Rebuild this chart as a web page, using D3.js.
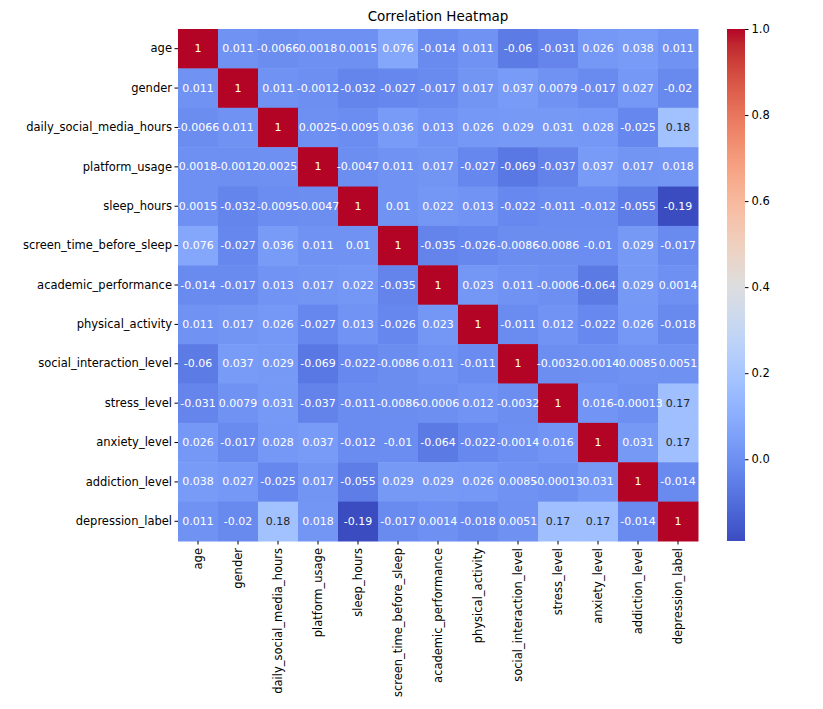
<!DOCTYPE html>
<html><head><meta charset="utf-8">
<script src="https://cdn.jsdelivr.net/npm/d3@7"></script>
<style>body{margin:0;background:#fff;font-family:"DejaVu Sans",sans-serif;}</style>
</head><body><div id="chart"></div>
<script>
const vars = ["age","gender","daily_social_media_hours","platform_usage","sleep_hours","screen_time_before_sleep","academic_performance","physical_activity","social_interaction_level","stress_level","anxiety_level","addiction_level","depression_label"];
// upper triangle rows (values right of the diagonal)
const upper = [
  [0.011,-0.0066,0.0018,0.0015,0.076,-0.014,0.011,-0.06,-0.031,0.026,0.038,0.011],
  [0.011,-0.0012,-0.032,-0.027,-0.017,0.017,0.037,0.0079,-0.017,0.027,-0.02],
  [0.0025,-0.0095,0.036,0.013,0.026,0.029,0.031,0.028,-0.025,0.18],
  [-0.0047,0.011,0.017,-0.027,-0.069,-0.037,0.037,0.017,0.018],
  [0.01,0.022,0.013,-0.022,-0.011,-0.012,-0.055,-0.19],
  [-0.035,-0.026,-0.0086,-0.0086,-0.01,0.029,-0.017],
  [0.023,0.011,-0.0006,-0.064,0.029,0.0014],
  [-0.011,0.012,-0.022,0.026,-0.018],
  [-0.0032,-0.0014,0.0085,0.0051],
  [0.016,-0.00013,0.17],
  [0.031,0.17],
  [-0.014],
  []
];
const cbTicks = [0.0,0.2,0.4,0.6,0.8,1.0];
const coolwarm = ["#3b4cc0","#445acc","#4d68d7","#5775e1","#6282ea","#6c8ef1","#779af7","#82a5fb","#8db0fe","#98b9ff","#a3c2ff","#aec9fd","#b8d0f9","#c2d5f4","#ccd9ee","#d5dbe6","#dddddd","#e5d8d1","#ecd3c5","#f1ccb9","#f5c4ad","#f7bba0","#f7b194","#f7a687","#f49a7b","#f18d6f","#ec7f63","#e57058","#de604d","#d55042","#cb3e38","#c0282f","#b40426"];

const N = vars.length;
const M = vars.map((_, i) => vars.map((_, j) => i === j ? 1 : (j > i ? upper[i][j - i - 1] : upper[j][i - j - 1])));
const cells = [];
M.forEach((row, i) => row.forEach((v, j) => cells.push({i, j, v})));

const width = 823, height = 709;
const gx0 = 178, gx1 = 698, gy0 = 29, gy1 = 541;
const vmin = d3.min(cells, d => d.v), vmax = 1;

const svg = d3.select("#chart").append("svg").attr("width", width).attr("height", height);
const x = d3.scaleBand().domain(d3.range(N)).range([gx0, gx1]);
const y = d3.scaleBand().domain(d3.range(N)).range([gy0, gy1]);
const interp = d3.interpolateRgbBasis(coolwarm);
const color = v => interp((v - vmin) / (vmax - vmin));

svg.append("g").selectAll("rect").data(cells).join("rect")
  .attr("x", d => x(d.j)).attr("y", d => y(d.i))
  .attr("width", x.bandwidth() + 0.5).attr("height", y.bandwidth() + 0.5)
  .attr("fill", d => color(d.v));

function lum(c) {
  const r = d3.rgb(c);
  const f = u => { u /= 255; return u <= 0.03928 ? u / 12.92 : Math.pow((u + 0.055) / 1.055, 2.4); };
  return 0.2126 * f(r.r) + 0.7152 * f(r.g) + 0.0722 * f(r.b);
}
const fmt = v => v === 1 ? "1" : String(+v.toPrecision(2));
svg.append("g").selectAll("text").data(cells).join("text")
  .attr("x", d => x(d.j) + x.bandwidth() / 2).attr("y", d => y(d.i) + y.bandwidth() / 2)
  .attr("text-anchor", "middle").attr("dominant-baseline", "central")
  .style("font-size", "11px")
  .attr("fill", d => lum(color(d.v)) > 0.408 ? "#262626" : "#fff")
  .text(d => fmt(d.v));

const yAxis = svg.append("g").attr("transform", `translate(${gx0},0)`)
  .call(d3.axisLeft(y).tickFormat(i => vars[i]).tickSize(3.5));
const xAxis = svg.append("g").attr("transform", `translate(0,${gy1})`)
  .call(d3.axisBottom(x).tickFormat(i => vars[i]).tickSize(3.5));
[xAxis, yAxis].forEach(a => { a.select(".domain").remove(); a.selectAll("text").style("font-size", "11.5px").style("font-family", "DejaVu Sans").attr("fill", "#000"); });
yAxis.selectAll("text").attr("x", -6);
xAxis.selectAll("text").attr("transform", "rotate(-90)").attr("text-anchor", "end")
  .attr("x", -7).attr("y", 0).attr("dy", "0.35em");

svg.append("text").attr("x", (gx0 + gx1) / 2).attr("y", 21).attr("text-anchor", "middle")
  .style("font-size", "13.5px").text("Correlation Heatmap");

// colorbar
const cbx = 727, cbw = 18;
const cy = d3.scaleLinear().domain([vmin, vmax]).range([gy1, gy0]);
const grad = svg.append("defs").append("linearGradient").attr("id", "cb")
  .attr("x1", 0).attr("y1", 1).attr("x2", 0).attr("y2", 0);
coolwarm.forEach((c, k) => grad.append("stop").attr("offset", k / (coolwarm.length - 1)).attr("stop-color", c));
svg.append("rect").attr("x", cbx).attr("y", gy0).attr("width", cbw).attr("height", gy1 - gy0).attr("fill", "url(#cb)");
const cAxis = svg.append("g").attr("transform", `translate(${cbx + cbw},0)`)
  .call(d3.axisRight(cy).tickValues(cbTicks).tickFormat(d3.format(".1f")).tickSize(3.5));
cAxis.select(".domain").remove();
cAxis.selectAll("text").style("font-size", "11.5px").style("font-family", "DejaVu Sans").attr("fill", "#000");
</script></body></html>
